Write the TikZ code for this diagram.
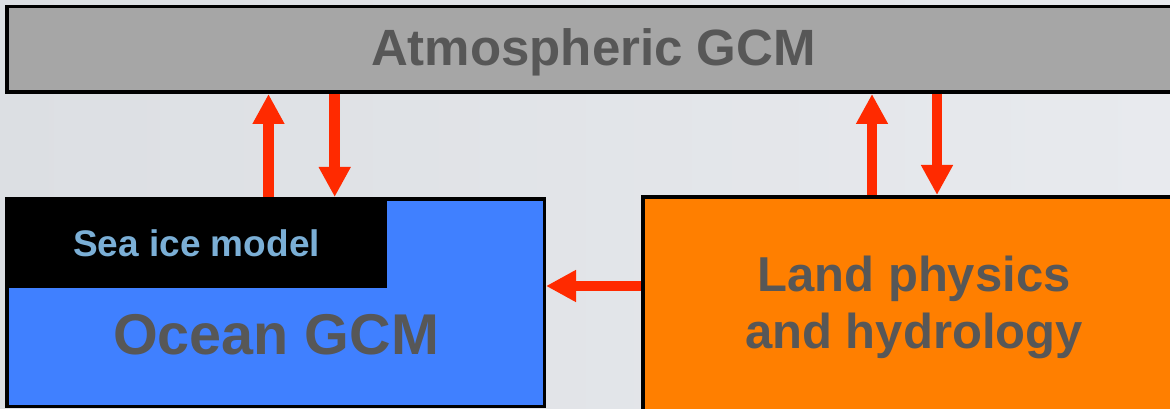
\documentclass[tikz,border=0pt]{standalone}
\usepackage{fontspec}
\setmainfont{Liberation Sans}
\usetikzlibrary{arrows.meta}
\definecolor{bgleft}{HTML}{DCDFE3}
\definecolor{bgright}{HTML}{E8EAEE}
\definecolor{atmfill}{HTML}{A6A6A6}
\definecolor{oceanfill}{HTML}{4080FF}
\definecolor{landfill}{HTML}{FF7F00}
\definecolor{flux}{HTML}{FF2A00}
\definecolor{labelgray}{HTML}{575757}
\definecolor{icelabel}{HTML}{7BAFD6}
\tikzset{
  model/.style={draw=black, line width=3.5pt, inner sep=0pt, anchor=north west},
  caption/.style={anchor=base, inner sep=0pt, text=labelgray, font=\bfseries},
  flow/.style={draw=flux, line width=10.5pt,
    -{Triangle[width=30pt,length=30pt]}},
}
\begin{document}
\begin{tikzpicture}[x=1pt,y=-1pt]
\useasboundingbox (0,0) rectangle (1170,409);
\clip (0,0) rectangle (1170,409);
% backdrop
\fill[left color=bgleft, right color=bgright] (0,0) rectangle (1170,409);

% component models
\node[model, fill=atmfill, minimum width=1200pt, minimum height=85.5pt] (atm) at (5,5) {};
\node[model, fill=oceanfill, minimum width=537.5pt, minimum height=207.5pt] (ocean) at (5,197) {};
\node[anchor=north west, fill=black, inner sep=0pt, minimum width=382pt, minimum height=91pt] (ice) at (5,197) {};
\node[model, fill=landfill, minimum width=600pt, minimum height=240pt] (land) at (641,195) {};

% labels
\node[caption, font=\bfseries\fontsize{51}{61}\selectfont] (atmtext) at (593.5,66) {Atmospheric GCM};
\node[caption, text=icelabel, font=\bfseries\fontsize{37}{44}\selectfont] (icetext) at (196.5,256) {Sea ice model};
\node[caption, font=\bfseries\fontsize{57.5}{69}\selectfont] (oceantext) at (276,354) {Ocean GCM};
\node[caption, font=\bfseries\fontsize{49}{59}\selectfont] (landtop) at (914,291) {Land physics};
\node[caption, font=\bfseries\fontsize{49}{59}\selectfont] (landbot) at (914,348.5) {and hydrology};

% exchanges between the models
\draw[flow] (ocean.north -| 268.5,0) -- (atm.south -| 268.5,0);
\draw[flow] (atm.south -| 334.7,0) -- (ocean.north -| 334.7,0);
\draw[flow] (land.north -| 872,0) -- (atm.south -| 872,0);
\draw[flow] (atm.south -| 937,0) -- (land.north -| 937,0);
\draw[flow] (land.west |- 0,286) -- (ocean.east |- 0,286);
\end{tikzpicture}
\end{document}
